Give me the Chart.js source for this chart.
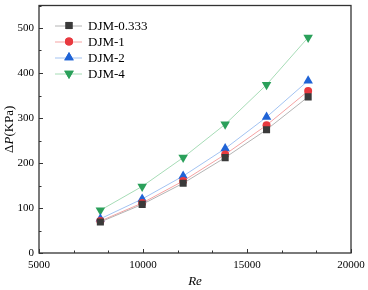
<!DOCTYPE html>
<html>
<head>
<meta charset="utf-8">
<script src="https://cdn.jsdelivr.net/npm/chart.js@4.4.0/dist/chart.umd.min.js"></script>
<style>
    html, body { margin: 0; padding: 0; background: #fff; }
    #wrap { width: 368px; height: 290px; }
</style>
</head>
<body>
<div id="wrap"><canvas id="dp-chart"></canvas></div>
<script>
// Reynolds numbers (x) and pressure drop (KPa) for each case
const reValues = [7950, 9960, 11930, 13950, 15940, 17940];
const seriesNames = ["DJM-0.333", "DJM-1", "DJM-2", "DJM-4"];
const djm0333 = [69, 108, 155, 212, 274, 347];
const djm1 = [71, 111, 160, 219, 284, 360];
const djm2 = [76, 120, 171, 232, 302, 383];
const djm4 = [95, 148, 212, 286, 374, 479];
const xTicks = [5000, 10000, 15000, 20000];
const yTicks = [0, 100, 200, 300, 400, 500];

const serif = "'Liberation Serif', 'Times New Roman', serif";

function toPoints(ys) {
    return ys.map((y, i) => ({ x: reValues[i], y: y }));
}

const styles = [
    { line: "#b4b4b4", mark: "#3a3a3a", shape: "rect", radius: 5, rotation: 0 },
    { line: "#f5a3a3", mark: "#e8393f", shape: "circle", radius: 4, rotation: 0 },
    { line: "#a3c3f2", mark: "#1f63d6", shape: "triangle", radius: 5.5, rotation: 0 },
    { line: "#a6dcb6", mark: "#2aa05a", shape: "triangle", radius: 5.5, rotation: 180 },
];

const allSeries = [djm0333, djm1, djm2, djm4];

const datasets = allSeries.map((ys, i) => ({
    label: seriesNames[i],
    data: toPoints(ys),
    borderColor: styles[i].line,
    borderWidth: 1,
    backgroundColor: styles[i].mark,
    pointBackgroundColor: styles[i].mark,
    pointBorderColor: styles[i].mark,
    pointBorderWidth: 0,
    pointStyle: styles[i].shape,
    pointRadius: styles[i].radius,
    pointRotation: styles[i].rotation,
    tension: 0,
}));

// frame, inward ticks, legend and y title
const framePlugin = {
    id: "frame",
    afterDraw(chart) {
        const ctx = chart.ctx;
        const area = chart.chartArea;
        const xs = chart.scales.x;
        const ys = chart.scales.y;
        ctx.save();
        ctx.strokeStyle = "#333";
        ctx.lineWidth = 1.3;
        ctx.strokeRect(area.left, area.top, area.right - area.left, area.bottom - area.top);

        ctx.lineWidth = 1;
        ctx.beginPath();
        // x ticks: majors every 5000, minors at thirds
        for (let v = 5000; v <= 20000; v += 5000 / 3) {
            const px = Math.round(xs.getPixelForValue(v)) + 0.5;
            const major = Math.abs(((v - 5000) / 5000) - Math.round((v - 5000) / 5000)) < 1e-6;
            ctx.moveTo(px, area.bottom);
            ctx.lineTo(px, area.bottom - (major ? 4 : 2.5));
        }
        // y ticks: majors every 100, minors at 50
        for (let v = 0; v <= 550; v += 50) {
            const py = Math.round(ys.getPixelForValue(v)) + 0.5;
            ctx.moveTo(area.left, py);
            ctx.lineTo(area.left + (v % 100 === 0 ? 4 : 2.5), py);
        }
        ctx.stroke();

        // legend
        const lx = area.left + 16;
        let ly = area.top + 20;
        ctx.font = "13px " + serif;
        ctx.textBaseline = "middle";
        ctx.fillStyle = "#000";
        chart.data.datasets.forEach((ds, i) => {
            const st = styles[i];
            ctx.strokeStyle = st.line;
            ctx.lineWidth = 1;
            ctx.beginPath();
            ctx.moveTo(lx, ly + 0.5);
            ctx.lineTo(lx + 27, ly + 0.5);
            ctx.stroke();
            ctx.fillStyle = st.mark;
            Chart.helpers.drawPoint(ctx, {
                pointStyle: st.shape,
                radius: st.radius,
                rotation: st.rotation,
                borderWidth: 0,
            }, lx + 14, ly);
            ctx.fill();
            ctx.fillStyle = "#000";
            ctx.fillText(ds.label, lx + 33, ly + 1);
            ly += 16;
        });

        // y title: ΔP(KPa), P italic
        const cy = (area.top + area.bottom) / 2;
        ctx.translate(10, cy);
        ctx.rotate(-Math.PI / 2);
        ctx.textBaseline = "middle";
        const parts = [
            { t: "\u0394", f: "13px " + serif },
            { t: "P", f: "italic 13px " + serif },
            { t: "(KPa)", f: "13px " + serif },
        ];
        let total = 0;
        parts.forEach((p) => { ctx.font = p.f; total += ctx.measureText(p.t).width; });
        let px = -total / 2;
        parts.forEach((p) => {
            ctx.font = p.f;
            ctx.fillText(p.t, px, 0);
            px += ctx.measureText(p.t).width;
        });
        ctx.restore();
    },
};

const config = {
    type: "line",
    data: { datasets: datasets },
    options: {
        responsive: true,
        maintainAspectRatio: false,
        animation: false,
        layout: { padding: { top: 2, right: 17, bottom: 1, left: 0 } },
        plugins: {
            legend: { display: false },
            tooltip: { enabled: false },
        },
        scales: {
            x: {
                type: "linear",
                min: 5000,
                max: 20000,
                afterBuildTicks: (scale) => {
                    scale.ticks = xTicks.map((v) => ({ value: v }));
                },
                afterFit: (scale) => {
                    scale.height = 36;
                    scale.paddingLeft = 0;
                    scale.paddingRight = 0;
                },
                grid: { display: false, drawTicks: false },
                border: { display: false },
                ticks: {
                    padding: 6,
                    color: "#000",
                    font: { family: serif, size: 11 },
                    maxRotation: 0,
                    callback: (v) => String(v),
                },
                title: {
                    display: true,
                    text: "Re",
                    color: "#000",
                    font: { family: serif, size: 13, style: "italic" },
                    padding: { top: 2, bottom: 0 },
                },
            },
            y: {
                min: 0,
                max: 550,
                afterBuildTicks: (scale) => {
                    scale.ticks = yTicks.map((v) => ({ value: v }));
                },
                afterFit: (scale) => {
                    scale.width = 39;
                    scale.paddingTop = 0;
                    scale.paddingBottom = 0;
                },
                grid: { display: false, drawTicks: false },
                border: { display: false },
                ticks: {
                    padding: 5,
                    color: "#000",
                    font: { family: serif, size: 11 },
                },
            },
        },
    },
    plugins: [framePlugin],
};

new Chart(document.getElementById("dp-chart"), config);
</script>
</body>
</html>
